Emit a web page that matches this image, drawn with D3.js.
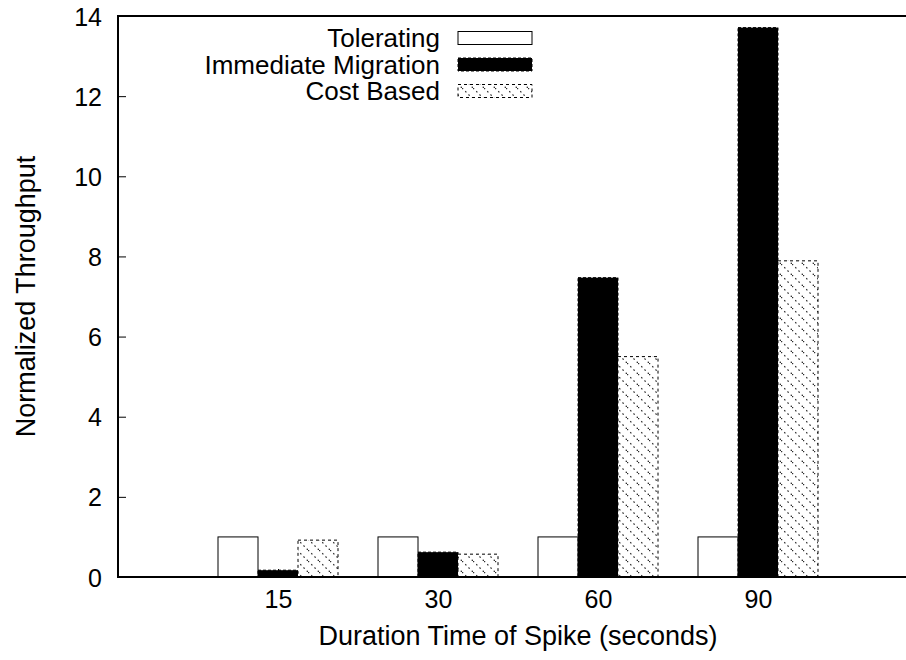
<!DOCTYPE html>
<html>
<head>
<meta charset="utf-8">
<script src="https://cdn.jsdelivr.net/npm/d3@7/dist/d3.min.js"></script>
<style>
  html, body { margin: 0; padding: 0; background: #fff; }
  svg { display: block; }
  text { font-family: "Liberation Sans", Arial, Helvetica, sans-serif; fill: #000; }
</style>
</head>
<body>
<svg id="chart" width="906" height="660"></svg>
<script>
// Spike durations (seconds) and normalized throughput per policy
const categories = ["15", "30", "60", "90"];
const seriesNames = ["Tolerating", "Immediate Migration", "Cost Based"];
const tolerating = [1.0, 1.0, 1.0, 1.0];
const immediateMigration = [0.17, 0.62, 7.47, 13.71];
const costBased = [0.92, 0.57, 5.50, 7.89];
const yTicks = [0, 2, 4, 6, 8, 10, 12, 14];

const series = [tolerating, immediateMigration, costBased];

const svg = d3.select("#chart");
const plot = { left: 118, right: 906, top: 16, bottom: 577 };
const tickFont = 25, titleFont = 27, legendFont = 26;

// categories sit at integer positions 0..3 on a numeric x axis
const x = d3.scaleLinear().domain([-1, 3.925]).range([plot.left, plot.right]);
const y = d3.scaleLinear().domain([0, 14]).range([plot.bottom, plot.top]);
const barW = x(0.25) - x(0);

// hatch fill for the cost-based bars
const defs = svg.append("defs");
const pat = defs.append("pattern")
  .attr("id", "hatch")
  .attr("patternUnits", "userSpaceOnUse")
  .attr("width", 11).attr("height", 11);
pat.append("rect").attr("width", 11).attr("height", 11).attr("fill", "#fff");
pat.append("line")
  .attr("x1", 0).attr("y1", 0).attr("x2", 11).attr("y2", 11)
  .attr("stroke", "#222").attr("stroke-width", 1.1)
  .attr("stroke-dasharray", "1.6,3");

const styles = [
  { fill: "#fff", stroke: "#000", dash: null, sw: 1 },
  { fill: "#000", stroke: "#000", dash: "3,2", sw: 1 },
  { fill: "url(#hatch)", stroke: "#000", dash: "3,3", sw: 1 }
];

// bars
series.forEach((vals, si) => {
  const st = styles[si];
  svg.append("g").selectAll("rect")
    .data(vals)
    .join("rect")
    .attr("x", (d, i) => x(i) + (si - 1.5) * barW)
    .attr("y", d => y(d))
    .attr("width", barW)
    .attr("height", d => y(0) - y(d))
    .attr("fill", st.fill)
    .attr("stroke", st.stroke)
    .attr("stroke-width", st.sw)
    .attr("stroke-dasharray", st.dash);
});

// y axis with inward ticks
const yAxis = d3.axisLeft(y).tickValues(yTicks).tickSize(-8).tickPadding(16)
  .tickFormat(d3.format("d"));
const gy = svg.append("g").attr("transform", `translate(${plot.left},0)`).call(yAxis);
gy.select(".domain").remove();
gy.selectAll(".tick line").attr("stroke", "#000").attr("stroke-width", 1);
gy.selectAll(".tick text").attr("font-size", tickFont).attr("dy", "0.36em");

// x axis with inward ticks at each category
const xAxis = d3.axisBottom(x).tickValues(d3.range(categories.length))
  .tickSize(-8).tickPadding(13).tickFormat(i => categories[i]);
const gx = svg.append("g").attr("transform", `translate(0,${plot.bottom})`).call(xAxis);
gx.select(".domain").remove();
gx.selectAll(".tick line").attr("stroke", "#000").attr("stroke-width", 1);
gx.selectAll(".tick text").attr("font-size", tickFont).attr("dy", "0").attr("y", 31);

// border: left, top, bottom
svg.append("path")
  .attr("d", `M${plot.right},${plot.top}H${plot.left}V${plot.bottom}H${plot.right}`)
  .attr("fill", "none").attr("stroke", "#000").attr("stroke-width", 2);

// axis titles
svg.append("text")
  .attr("x", 518).attr("y", 645)
  .attr("text-anchor", "middle").attr("font-size", titleFont)
  .text("Duration Time of Spike (seconds)");
svg.append("text")
  .attr("transform", `translate(35,${(plot.top + plot.bottom) / 2}) rotate(-90)`)
  .attr("text-anchor", "middle").attr("font-size", titleFont)
  .text("Normalized Throughput");

// legend
const legend = svg.append("g");
seriesNames.forEach((name, si) => {
  const cy = 38 + si * 26.5;
  const st = styles[si];
  legend.append("text")
    .attr("x", 440).attr("y", cy).attr("dy", "0.36em")
    .attr("text-anchor", "end").attr("font-size", legendFont)
    .text(name);
  legend.append("rect")
    .attr("x", 458).attr("y", cy - 6.5)
    .attr("width", 74).attr("height", 13)
    .attr("fill", st.fill).attr("stroke", st.stroke)
    .attr("stroke-width", st.sw).attr("stroke-dasharray", st.dash);
});
</script>
</body>
</html>
